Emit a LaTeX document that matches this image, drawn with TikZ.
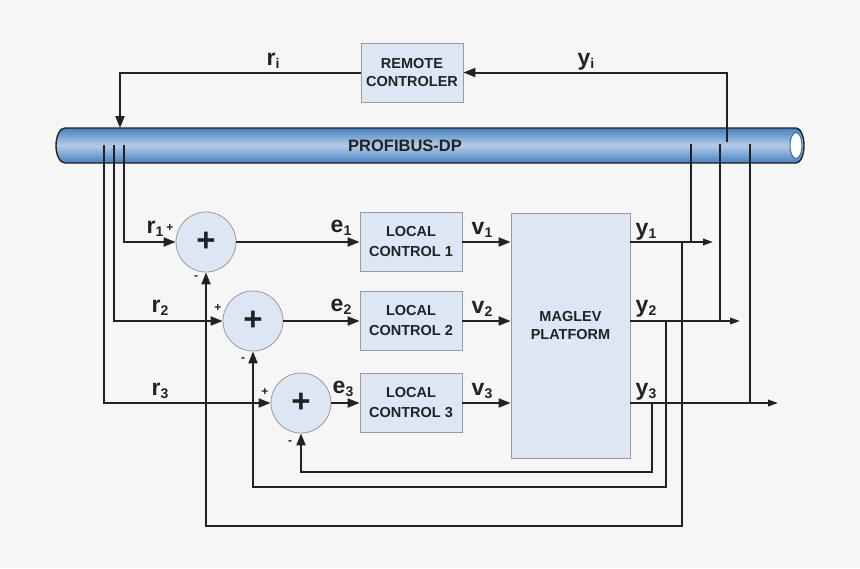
\documentclass[tikz,border=0pt]{standalone}
\usepackage{fontspec}
\setmainfont{Liberation Sans}
\usetikzlibrary{arrows.meta,calc}
\definecolor{bg}{HTML}{F6F6F6}
\definecolor{boxfill}{HTML}{DCE6F4}
\definecolor{boxline}{HTML}{9A9A9A}
\definecolor{ink}{HTML}{222222}
\definecolor{pipeedge}{HTML}{4382C0}
\definecolor{pipemid}{HTML}{B4CBE6}
\definecolor{capline}{HTML}{3F6FAF}
\newcommand{\lbl}[2]{{\fontsize{23}{24}\selectfont #1}\raisebox{-3pt}{\fontsize{14}{14}\selectfont #2}}
\begin{document}
\begin{tikzpicture}[x=1pt,y=-1pt,
  blk/.style={draw=boxline,fill=boxfill,line width=0.8pt,rectangle,minimum width=102pt,minimum height=59pt,inner sep=0pt,align=center,font=\fontsize{14.5}{18}\selectfont\bfseries,text=ink},
  lblk/.style={blk,font=\fontsize{14.5}{20}\selectfont\bfseries},
  sumc/.style={draw=boxline,fill=boxfill,line width=0.8pt,circle,minimum size=60pt,inner sep=0pt,font=\fontsize{33}{33}\selectfont\bfseries,text=ink},
  wire/.style={draw=ink,line width=2pt},
  arr/.style={wire,-{Triangle[length=12pt,width=9pt]}},
  oarr/.style={wire,-{Triangle[length=10pt,width=6.5pt]}},
  lab/.style={anchor=base,text=ink,font=\bfseries,inner sep=0pt},
  sgn/.style={text=ink,font=\fontsize{12}{12}\selectfont\bfseries,inner sep=0pt},
]
\fill[bg] (0,0) rectangle (860,568);
\useasboundingbox (0,0) rectangle (860,568);

% pipe
\shade[top color=pipeedge,bottom color=pipeedge,middle color=pipemid]
  (65,128) -- (796,128) arc[start angle=90,end angle=-90,x radius=8pt,y radius=17.5pt]
  -- (65,163) arc[start angle=270,end angle=90,x radius=9pt,y radius=17.5pt] -- cycle;
\draw[ink,line width=1.4pt]
  (65,128) -- (796,128) arc[start angle=90,end angle=-90,x radius=8pt,y radius=17.5pt]
  -- (65,163) arc[start angle=270,end angle=90,x radius=9pt,y radius=17.5pt] -- cycle;
\draw[capline,fill=white,line width=1pt] (796,145.5) ellipse[x radius=6pt,y radius=13pt];
\node[text=ink,font=\fontsize{16.5}{18}\selectfont\bfseries,inner sep=0pt] (bus) at (405,145.5) {PROFIBUS-DP};

% coordinates
\coordinate (ri) at (120,128);
\coordinate (yt) at (727,142);
\coordinate (bl1) at (124,145);
\coordinate (bl2) at (114,145);
\coordinate (bl3) at (104,145);
\coordinate (br1) at (691,144);
\coordinate (br2) at (720,144);
\coordinate (br3) at (750,144);
\coordinate (o1) at (713,242);
\coordinate (o2) at (740,321);
\coordinate (o3) at (778,403);
\coordinate (f1) at (682,242);
\coordinate (f2) at (666,321);
\coordinate (f3) at (652,403);
\coordinate (g1) at (682,526);
\coordinate (g2) at (666,487);
\coordinate (g3) at (652,472);

% blocks
\node[blk] (rc) at (412,72.5) {REMOTE\\CONTROLER};
\node[sumc] (s1) at (206,242) {+};
\node[sumc] (s2) at (253,321) {+};
\node[sumc] (s3) at (301,403) {+};
\node[lblk] (c1) at (411,242) {LOCAL\\CONTROL 1};
\node[lblk] (c2) at (411,321) {LOCAL\\CONTROL 2};
\node[lblk] (c3) at (411,403) {LOCAL\\CONTROL 3};
\node[blk,minimum width=119pt,minimum height=245pt] (mg) at (570.5,335.5) {};
\node[text=ink,align=center,font=\fontsize{14.5}{18}\selectfont\bfseries,inner sep=0pt] (mgt) at (570.5,326) {MAGLEV\\PLATFORM};

% connectors
\draw[arr] (rc.west) -| (ri);
\draw[arr] (yt) |- (rc.east);
\draw[arr] (bl1) |- (s1.west);
\draw[arr] (bl2) |- (s2.west);
\draw[arr] (bl3) |- (s3.west);
\draw[arr] (s1.east) -- (c1.west);
\draw[arr] (s2.east) -- (c2.west);
\draw[arr] (s3.east) -- (c3.west);
\draw[arr] (c1.east) -- (c1.east -| mg.west);
\draw[arr] (c2.east) -- (c2.east -| mg.west);
\draw[arr] (c3.east) -- (c3.east -| mg.west);
\draw[oarr] (o1 -| mg.east) -- (o1);
\draw[oarr] (o2 -| mg.east) -- (o2);
\draw[oarr] (o3 -| mg.east) -- (o3);
\draw[wire] (br1) -- (br1 |- o1);
\draw[wire] (br2) -- (br2 |- o2);
\draw[wire] (br3) -- (br3 |- o3);
\draw[arr] (f1) -- (g1) -| (s1.south);
\draw[arr] (f2) -- (g2) -| (s2.south);
\draw[arr] (f3) -- (g3) -| (s3.south);

% labels
\node[lab] (lri) at (273,65) {\lbl{r}{i}};
\node[lab] (lyi) at (586,65) {\lbl{y}{i}};
\node[lab] (lr1) at (155,233) {\lbl{r}{1}};
\node[lab] (lr2) at (160,312) {\lbl{r}{2}};
\node[lab] (lr3) at (160,395) {\lbl{r}{3}};
\node[lab] (le1) at (341,232) {\lbl{e}{1}};
\node[lab] (le2) at (341,311) {\lbl{e}{2}};
\node[lab] (le3) at (343,393) {\lbl{e}{3}};
\node[lab] (lv1) at (482,234) {\lbl{v}{1}};
\node[lab] (lv2) at (482,313) {\lbl{v}{2}};
\node[lab] (lv3) at (482,395) {\lbl{v}{3}};
\node[lab] (ly1) at (646,235) {\lbl{y}{1}};
\node[lab] (ly2) at (646,312) {\lbl{y}{2}};
\node[lab] (ly3) at (646,395) {\lbl{y}{3}};

% signs
\node[sgn] (p1) at (170,228) {+};
\node[sgn] (m1) at (196,278) {-};
\node[sgn] (p2) at (218,308) {+};
\node[sgn] (m2) at (243,360) {-};
\node[sgn] (p3) at (265,392) {+};
\node[sgn] (m3) at (290,443) {-};
\end{tikzpicture}
\end{document}
